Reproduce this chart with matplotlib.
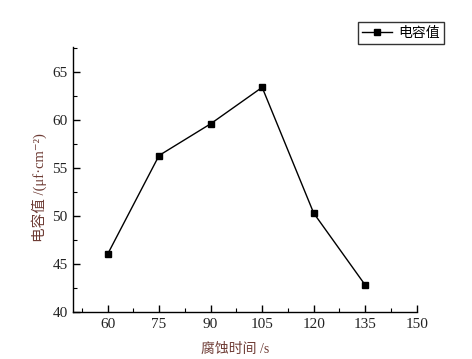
import numpy as np
import matplotlib
matplotlib.use("Agg")
from matplotlib import pyplot as plt
from matplotlib.ticker import MultipleLocator, FixedLocator

# data
etch_time = [60, 75, 90, 105, 120, 135]
capacitance = [46.0, 56.3, 59.6, 63.4, 50.3, 42.8]
x_ticks = [60, 75, 90, 105, 120, 135, 150]
y_ticks = [40, 45, 50, 55, 60, 65]

cjk = ['Noto Sans CJK SC', 'DejaVu Sans']
serif = ['Liberation Serif', 'DejaVu Serif']
mixed = ['Liberation Serif', 'Noto Sans CJK SC', 'DejaVu Sans']
label_color = '#6e3b34'


def data_plot():
    fig = plt.figure(figsize=(4.72, 3.59), dpi=100)
    ax = fig.add_axes([0.155, 0.131, 0.728, 0.738])

    ax.plot(etch_time, capacitance, color='black', lw=1.0,
            marker='s', ms=5, mfc='black', mec='black', label='电容值')

    ax.set_xlim(50, 150)
    ax.set_ylim(40, 67.6)
    ax.set_xticks(x_ticks)
    ax.set_yticks(y_ticks)
    ax.xaxis.set_minor_locator(FixedLocator(np.arange(52.5, 150, 15)))
    ax.yaxis.set_minor_locator(MultipleLocator(2.5))

    ax.spines['top'].set_visible(False)
    ax.spines['right'].set_visible(False)
    for s in ('left', 'bottom'):
        ax.spines[s].set_linewidth(1.0)

    ax.tick_params(which='major', direction='in', length=5, width=1.0,
                   labelsize=11, pad=4)
    ax.tick_params(which='minor', direction='in', length=3, width=0.8)
    for lab in ax.get_xticklabels() + ax.get_yticklabels():
        lab.set_family(serif)
        lab.set_color('#222222')

    ax.set_xlabel('腐蚀时间 /s', family=mixed, fontsize=10, color=label_color)
    ax.xaxis.set_label_coords(0.47, -0.115)
    ax.set_ylabel('电容值 /(μf·cm⁻²)', family=mixed, fontsize=10.5,
                  color=label_color)
    ax.yaxis.set_label_coords(-0.075, 0.47)

    leg = fig.legend(loc='upper right', bbox_to_anchor=(0.94, 0.94),
                     prop={'family': cjk, 'size': 10}, frameon=True, fancybox=False,
                     borderpad=0.3, handlelength=2.2, handletextpad=0.4,
                     borderaxespad=0)
    leg.get_frame().set_edgecolor('black')
    leg.get_frame().set_linewidth(1.0)

    fig.savefig('out.png', dpi=100)


if __name__ == '__main__':
    data_plot()
